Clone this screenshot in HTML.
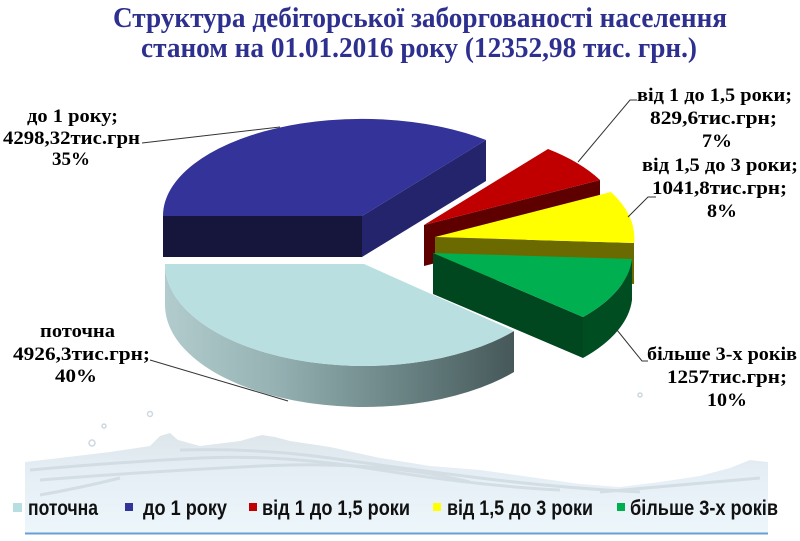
<!DOCTYPE html>
<html>
<head>
<meta charset="utf-8">
<style>
  html,body{margin:0;padding:0;background:#ffffff;}
  svg{display:block;}
  .t{font-family:"Liberation Serif","Noto Serif CJK SC",serif;font-weight:bold;fill:#2e3090;font-size:29px;}
  .l{font-family:"Liberation Serif","Noto Serif CJK SC",serif;font-weight:bold;fill:#000;font-size:19px;}
  .g{font-family:"Liberation Sans","Noto Sans CJK SC",sans-serif;font-weight:bold;fill:#111;font-size:21px;}
</style>
</head>
<body>
<svg width="800" height="541" viewBox="0 0 800 541" xmlns="http://www.w3.org/2000/svg">
  <defs>
    <linearGradient id="wall" x1="165" y1="0" x2="514" y2="0" gradientUnits="userSpaceOnUse">
      <stop offset="0" stop-color="#b2cccd"/>
      <stop offset="0.3" stop-color="#97b3b4"/>
      <stop offset="0.65" stop-color="#6d8788"/>
      <stop offset="1" stop-color="#465859"/>
    </linearGradient>
    <linearGradient id="water" x1="0" y1="430" x2="0" y2="533" gradientUnits="userSpaceOnUse">
      <stop offset="0" stop-color="#dde5ea"/>
      <stop offset="0.4" stop-color="#e4eef4"/>
      <stop offset="1" stop-color="#ecf6fb"/>
    </linearGradient>
  </defs>

  <rect x="0" y="0" width="800" height="541" fill="#ffffff"/>

  <!-- water background -->
  <path d="M25,462 L60,458 L110,452 L150,446 L160,436 L170,433 L178,440 L200,446 L240,441 L262,435 L275,437 L290,441 L330,447 L380,458 L430,466 L480,470 L530,477 L580,484 L620,487 L660,482 L700,476 L730,468 L750,460 L768,462 L768,533 L25,533 Z" fill="url(#water)"/>
  <g fill="none" stroke="#cfd9e0" stroke-width="3" opacity="0.8">
    <path d="M30,470 Q120,462 200,458 T380,470 T560,490"/>
    <path d="M40,480 Q140,472 260,466 T470,482"/>
    <path d="M180,450 Q260,448 330,458 T480,478 T640,492"/>
    <path d="M600,492 Q680,485 760,478"/>
    <path d="M40,495 Q80,488 120,478"/>
  </g>
  <g fill="none" stroke="#cdd8e0" stroke-width="1.5">
    <circle cx="92" cy="443" r="3"/>
    <circle cx="150" cy="414" r="2.5"/>
    <circle cx="104" cy="426" r="2"/>
    <circle cx="640" cy="395" r="2"/>
  </g>
  <line x1="25" y1="533.5" x2="768" y2="533.5" stroke="#6a9fd3" stroke-width="2"/>

  <!-- title -->
  <text class="t" x="113" y="27" textLength="614" lengthAdjust="spacingAndGlyphs">Структура дебіторської заборгованості населення</text>
  <text class="t" x="141" y="57" textLength="556" lengthAdjust="spacingAndGlyphs">станом на 01.01.2016 року (12352,98 тис. грн.)</text>

  <!-- BLUE slice (до 1 року) -->
  <polygon points="362,216 486,140 486,181 362,257" fill="#24246c"/>
  <polygon points="163,216 362,216 362,257 163,257" fill="#16163d"/>
  <path d="M362,216 L163,216 A199,97 0 0 1 486,140 Z" fill="#333399"/>

  <!-- RED slice -->
  <polygon points="424,225 600,180 600,221 424,266" fill="#5e0000"/>
  <path d="M424,225 L548,149 A199,97 0 0 1 600,180 Z" fill="#c00000"/>

  <!-- YELLOW slice -->
  <polygon points="435,237 634,243 634,284 435,278" fill="#6a6a00"/>
  <path d="M634,237 A199,97 0 0 1 634,243 L634,284 A199,97 0 0 0 634,278 Z" fill="#7a7a00"/>
  <path d="M435,237 L611,192 A199,97 0 0 1 634,243 Z" fill="#ffff00"/>

  <!-- GREEN slice -->
  <polygon points="433,253 583,317 583,358 433,294" fill="#00461f"/>
  <path d="M632,259 A199,97 0 0 1 583,317 L583,358 A199,97 0 0 0 632,300 Z" fill="#004d22"/>
  <path d="M433,253 L632,259 A199,97 0 0 1 583,317 Z" fill="#00b050"/>

  <!-- LIGHT BLUE slice (поточна) -->
  <path d="M514,331 A199,102 0 0 1 165,264 L165,305 A199,102 0 0 0 514,372 Z" fill="url(#wall)"/>
  <path d="M364,264 L514,331 A199,102 0 0 1 165,264 Z" fill="#b9dfe1"/>

  <!-- leader lines -->
  <g fill="none" stroke="#333" stroke-width="1">
    <polyline points="142,143 280,127"/>
    <polyline points="150,360 288,401"/>
    <polyline points="637,100 630,100 578,162"/>
    <polyline points="656,197 648,197 628,217"/>
    <polyline points="617,330 642,361 648,361"/>
  </g>

  <!-- left labels -->
  <text class="l" x="72.5" y="122" text-anchor="middle" textLength="91" lengthAdjust="spacingAndGlyphs">до 1 року;</text>
  <text class="l" x="71.5" y="144" text-anchor="middle" textLength="137" lengthAdjust="spacingAndGlyphs">4298,32тис.грн</text>
  <text class="l" x="71" y="165" text-anchor="middle" textLength="38" lengthAdjust="spacingAndGlyphs">35%</text>

  <text class="l" x="77.5" y="337" text-anchor="middle" textLength="75" lengthAdjust="spacingAndGlyphs">поточна</text>
  <text class="l" x="81.5" y="360" text-anchor="middle" textLength="137" lengthAdjust="spacingAndGlyphs">4926,3тис.грн;</text>
  <text class="l" x="76" y="382" text-anchor="middle" textLength="42" lengthAdjust="spacingAndGlyphs">40%</text>

  <!-- right labels -->
  <text class="l" x="714.5" y="101" text-anchor="middle" textLength="155" lengthAdjust="spacingAndGlyphs">від 1 до 1,5 роки;</text>
  <text class="l" x="713.5" y="124" text-anchor="middle" textLength="127" lengthAdjust="spacingAndGlyphs">829,6тис.грн;</text>
  <text class="l" x="717" y="147" text-anchor="middle" textLength="30" lengthAdjust="spacingAndGlyphs">7%</text>

  <text class="l" x="720" y="171" text-anchor="middle" textLength="156" lengthAdjust="spacingAndGlyphs">від 1,5 до 3 роки;</text>
  <text class="l" x="719.5" y="194" text-anchor="middle" textLength="135" lengthAdjust="spacingAndGlyphs">1041,8тис.грн;</text>
  <text class="l" x="722" y="217" text-anchor="middle" textLength="30" lengthAdjust="spacingAndGlyphs">8%</text>

  <text class="l" x="722" y="360" text-anchor="middle" textLength="150" lengthAdjust="spacingAndGlyphs">більше 3-х років</text>
  <text class="l" x="727" y="383" text-anchor="middle" textLength="120" lengthAdjust="spacingAndGlyphs">1257тис.грн;</text>
  <text class="l" x="727" y="406" text-anchor="middle" textLength="40" lengthAdjust="spacingAndGlyphs">10%</text>

  <!-- legend -->
  <rect x="13" y="503" width="9" height="9" fill="#b7dee0"/>
  <text class="g" x="28" y="515" textLength="70" lengthAdjust="spacingAndGlyphs">поточна</text>
  <rect x="125" y="503" width="8" height="8" fill="#333399"/>
  <text class="g" x="143" y="515" textLength="84" lengthAdjust="spacingAndGlyphs">до 1 року</text>
  <rect x="249" y="503" width="8" height="8" fill="#c00000"/>
  <text class="g" x="262" y="515" textLength="148" lengthAdjust="spacingAndGlyphs">від 1 до 1,5 роки</text>
  <rect x="433" y="503" width="8" height="8" fill="#ffff00"/>
  <text class="g" x="447" y="515" textLength="146" lengthAdjust="spacingAndGlyphs">від 1,5 до 3 роки</text>
  <rect x="617" y="503" width="8" height="8" fill="#00b050"/>
  <text class="g" x="630" y="515" textLength="148" lengthAdjust="spacingAndGlyphs">більше 3-х років</text>
</svg>
</body>
</html>
